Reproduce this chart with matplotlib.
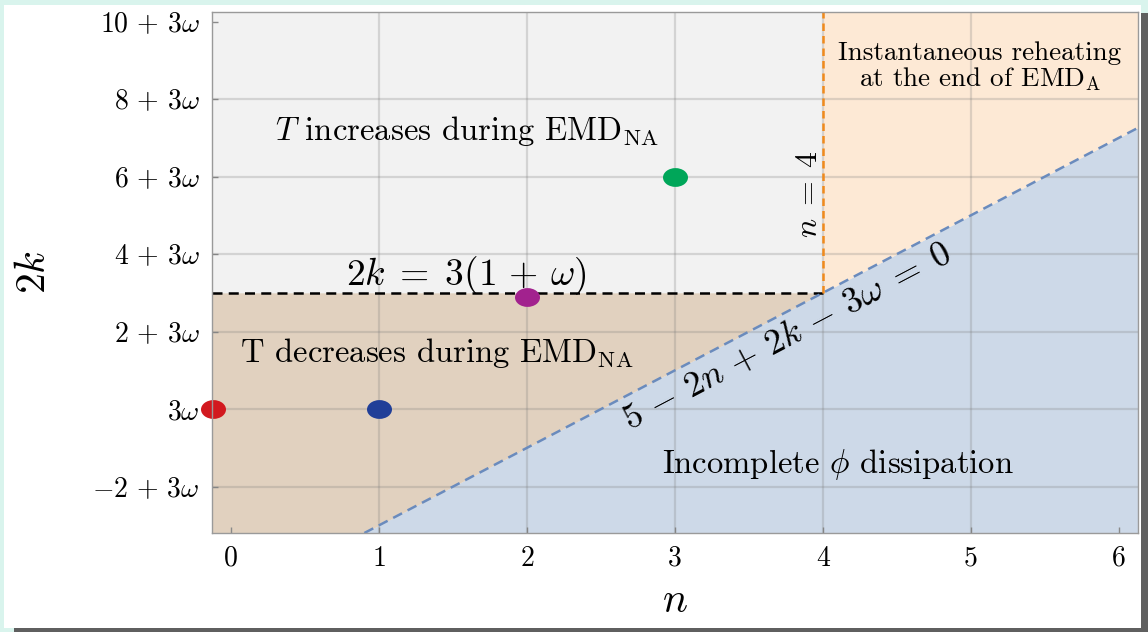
import numpy as np
import matplotlib
matplotlib.use("Agg")
import matplotlib.pyplot as plt
from matplotlib.patches import Rectangle
from matplotlib.path import Path
from matplotlib.markers import MarkerStyle
from matplotlib.transforms import Affine2D

plt.rcParams["font.family"] = "cmr10"
plt.rcParams["mathtext.fontset"] = "cm"
plt.rcParams["axes.unicode_minus"] = False

# Axis ranges (n, and 2k - 3w)
n_lim = (-0.13, 6.13)
y_lim = (-3.2, 10.25)

# Tick positions and labels
x_ticks = [0, 1, 2, 3, 4, 5, 6]
x_labels = ["0", "1", "2", "3", "4", "5", "6"]
y_ticks = [-2, 0, 2, 4, 6, 8, 10]
y_labels = [r"$-2\,+\,3\omega$", r"$3\omega$", r"$2\,+\,3\omega$", r"$4\,+\,3\omega$",
            r"$6\,+\,3\omega$", r"$8\,+\,3\omega$", r"$10\,+\,3\omega$"]
grid_x = [1, 2, 3, 4, 5]
grid_y = [-2, 0, 2, 4, 6, 8]

# Boundaries
k_crit = 3.0          # 2k = 3(1+w)  ->  2k - 3w = 3
n_crit = 4.0          # n = 4

def dissipation_line(n):
    # 5 - 2n + 2k - 3w = 0  ->  2k - 3w = 2n - 5
    return 2 * n - 5

# Sample points (n, 2k - 3w)
pt_n = [-0.12, 1.0, 2.0, 3.0]
pt_y = [0.0, 0.0, 2.9, 6.0]
pt_colors = ["#d2191f", "#213f98", "#a2228e", "#00a659"]

fig = plt.figure(figsize=(11.48, 6.32), dpi=100)
fig.patch.set_facecolor("#d9f4ed")
W, H = 1148, 632
fig.patches.append(Rectangle((4 / W, 1 - 628 / H), (1141 - 4) / W, (628 - 5) / H,
                             transform=fig.transFigure, facecolor="white",
                             edgecolor="none", zorder=-10))
fig.patches.append(Rectangle((1141 / W, 0), 7 / W, 1 - 13 / H,
                             transform=fig.transFigure, facecolor="#5f5f5f",
                             edgecolor="none", zorder=-9))
fig.patches.append(Rectangle((14 / W, 0), 1 - 14 / W, 4 / H,
                             transform=fig.transFigure, facecolor="#5f5f5f",
                             edgecolor="none", zorder=-9))

ax = fig.add_axes([212 / W, 1 - 533 / H, (1138 - 212) / W, (533 - 12) / H])
ax.set_xlim(*n_lim)
ax.set_ylim(*y_lim)
ax.set_facecolor("#f2f2f2")

n_low = (y_lim[0] + 5) / 2
# region below the dissipation line
nb = np.array([n_low, n_lim[1]])
ax.fill_between(nb, y_lim[0], dissipation_line(nb), color="#cdd9e8", lw=0, zorder=1)
# region below 2k = 3(1+w), above the line, left of n=4
nt = np.array([n_lim[0], n_low, n_crit])
ax.fill_between(nt, np.maximum(dissipation_line(nt), y_lim[0]), k_crit,
                color="#e1d1bf", lw=0, zorder=1)
# region right of n=4 above the line
no = np.array([n_crit, n_lim[1]])
ax.fill_between(no, dissipation_line(no), y_lim[1], color="#fde9d5", lw=0, zorder=1)

for g in grid_x:
    ax.axvline(g, color="#7a7a7a", alpha=0.25, lw=1.6, zorder=2)
for g in grid_y:
    ax.axhline(g, color="#7a7a7a", alpha=0.25, lw=1.6, zorder=2)

# boundary lines
ax.plot([n_lim[0], n_crit], [k_crit, k_crit], color="black", lw=1.8,
        dashes=(4, 2.5), zorder=3)
ax.plot([n_crit, n_crit], [k_crit, y_lim[1]], color="#f08a1c", lw=1.8,
        dashes=(3, 2), zorder=3)
nl = np.array([n_low, n_lim[1]])
ax.plot(nl, dissipation_line(nl), color="#6a8bbd", lw=1.8, dashes=(4, 2.5), zorder=3)

# elliptical markers
ell = Path.unit_circle().transformed(Affine2D().scale(1.33, 1.0))
for x, y, c in zip(pt_n, pt_y, pt_colors):
    ax.plot(x, y, marker=MarkerStyle(ell), markersize=18, color=c,
            markeredgewidth=0, zorder=5, clip_on=False)

# annotations
ax.text(1.59, 7.19, r"$T$ increases during EMD$_{\mathrm{NA}}$", fontsize=23.5,
        ha="center", va="center", zorder=6)
ax.text(1.39, 1.44, r"T decreases during EMD$_{\mathrm{NA}}$", fontsize=23.5,
        ha="center", va="center", zorder=6)
ax.text(1.59, 3.45, r"$2k\;=\;3(1\,+\,\omega)$", fontsize=27, ha="center",
        va="center", zorder=6)
ax.text(3.91, 5.55, r"$n\;=\;4$", fontsize=23, rotation=90, ha="center",
        va="center", zorder=6)
ax.text(5.06, 8.82, "Instantaneous reheating\nat the end of EMD$_{\\mathrm{A}}$",
        fontsize=19.5, ha="center", va="center", linespacing=1.0, zorder=6)
ax.text(4.1, -1.42, r"Incomplete $\phi$ dissipation", fontsize=23.5,
        ha="center", va="center", zorder=6)
ax.text(3.76, 1.86, r"$5\,-\,2n\,+\,2k\,-\,3\omega\;=\;0$", fontsize=26,
        rotation=27.7, rotation_mode="anchor", ha="center", va="center", zorder=6)

ax.set_xticks(x_ticks)
ax.set_xticklabels(x_labels, fontsize=20)
ax.set_yticks(y_ticks)
ax.set_yticklabels(y_labels, fontsize=20)
ax.tick_params(direction="in", length=4, width=1, color="#8a8a8a", pad=9)
for s in ax.spines.values():
    s.set_color("#9a9a9a")
    s.set_linewidth(1.0)
    s.set_zorder(7)

ax.set_xlabel(r"$n$", fontsize=30, labelpad=8)
ax.set_ylabel(r"$2k$", fontsize=30, labelpad=28)

fig.savefig("out.png", dpi=100, facecolor=fig.get_facecolor())
